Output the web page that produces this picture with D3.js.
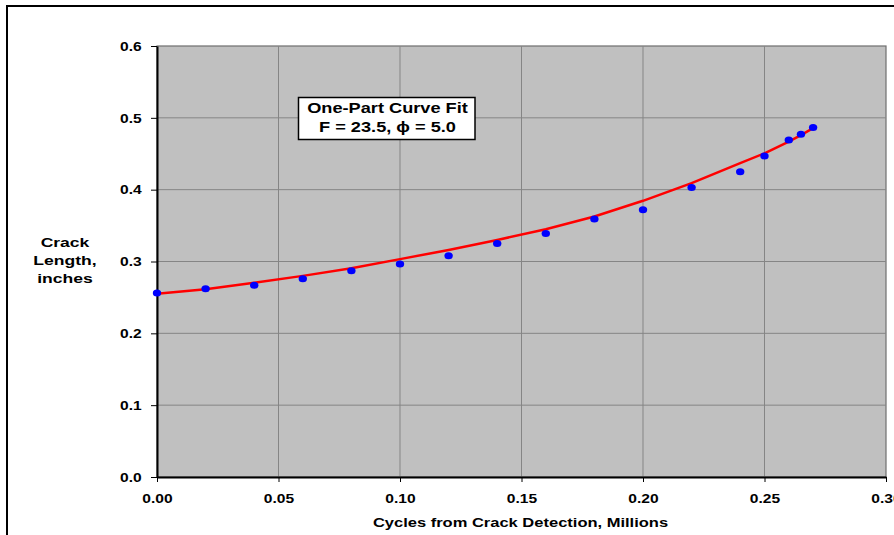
<!DOCTYPE html>
<html>
<head>
<meta charset="utf-8">
<script src="https://cdn.jsdelivr.net/npm/d3@7"></script>
<style>
  body { margin: 0; background: #fff; }
  text { font-family: "Liberation Sans", Arial, sans-serif; font-weight: bold; fill: #000; }
</style>
</head>
<body>
<div id="chart"></div>
<script>
// measured points (cycles in millions, crack length in inches)
var cycles = [0, 0.02, 0.04, 0.06, 0.08, 0.10, 0.12, 0.14, 0.16, 0.18, 0.20, 0.22, 0.24, 0.25, 0.26, 0.265, 0.27];
var crackLength = [0.256, 0.262, 0.267, 0.276, 0.287, 0.2965, 0.308, 0.325, 0.339, 0.359, 0.372, 0.403, 0.425, 0.447, 0.469, 0.477, 0.4865];

// one-part curve fit
var fitCycles = [0, 0.02, 0.04, 0.06, 0.08, 0.10, 0.12, 0.14, 0.16, 0.18, 0.20, 0.22, 0.24, 0.25, 0.26, 0.265, 0.27];
var fitLength = [0.255, 0.2615, 0.2705, 0.280, 0.2905, 0.3033, 0.316, 0.330, 0.345, 0.3626, 0.3845, 0.409, 0.437, 0.4506, 0.467, 0.476, 0.4856];

var xTicks = [0, 0.05, 0.10, 0.15, 0.20, 0.25, 0.30];
var yTicks = [0, 0.1, 0.2, 0.3, 0.4, 0.5, 0.6];

var legendLines = ["One-Part Curve Fit", "F = 23.5, \u03D5 = 5.0"];
var yTitle = ["Crack", "Length,", "inches"];
var xTitle = "Cycles from Crack Detection, Millions";

var W = 894, H = 535;
var margin = { left: 157, top: 46, right: 8, bottom: 58 };
var width = W - margin.left - margin.right;
var height = H - margin.top - margin.bottom;
var SX = 1.3; // the original text is drawn wide

var svg = d3.select("#chart").append("svg").attr("width", W).attr("height", H);

// outer chart frame (runs off the picture at right and bottom)
svg.append("rect").attr("x", 7).attr("y", 6).attr("width", W + 20).attr("height", H + 20)
  .attr("fill", "#fff").attr("stroke", "#000").attr("stroke-width", 2);

var g = svg.append("g").attr("transform", "translate(" + margin.left + "," + margin.top + ")");

var x = d3.scaleLinear().domain([0, 0.3]).range([0, width]);
var y = d3.scaleLinear().domain([0, 0.6]).range([height, 0]);

g.append("rect").attr("width", width).attr("height", height)
  .attr("fill", "#c0c0c0").attr("stroke", "#6e6e6e").attr("stroke-width", 1.2);

// grid
g.selectAll(".vgrid").data(xTicks.slice(1, -1)).enter().append("line")
  .attr("x1", function (d) { return x(d); }).attr("x2", function (d) { return x(d); })
  .attr("y1", 0).attr("y2", height)
  .attr("stroke", "#858585").attr("stroke-width", 1);
g.selectAll(".hgrid").data(yTicks.slice(1, -1)).enter().append("line")
  .attr("y1", function (d) { return y(d); }).attr("y2", function (d) { return y(d); })
  .attr("x1", 0).attr("x2", width)
  .attr("stroke", "#858585").attr("stroke-width", 1);

// axes
var xAxis = g.append("g").attr("transform", "translate(0," + height + ")")
  .call(d3.axisBottom(x).tickValues(xTicks).tickFormat(d3.format(".2f")).tickSize(5).tickSizeOuter(0));
var yAxis = g.append("g")
  .call(d3.axisLeft(y).tickValues(yTicks).tickFormat(d3.format(".1f")).tickSize(6).tickSizeOuter(0));

[xAxis, yAxis].forEach(function (a) {
  a.select(".domain").attr("stroke", "#000").attr("stroke-width", 2);
  a.selectAll(".tick line").attr("stroke", "#000").attr("stroke-width", 1);
  a.selectAll(".tick text").style("font-size", "12px").style("font-family", null).attr("fill", "#000");
});
xAxis.selectAll(".tick text").attr("y", 26).attr("dy", 0).attr("transform", "scale(" + SX + ",1)");
yAxis.selectAll(".tick text").attr("x", -15.3 / SX).attr("dy", "0.36em").attr("transform", "scale(" + SX + ",1)");

// fit line
var line = d3.line()
  .x(function (d, i) { return x(fitCycles[i]); })
  .y(function (d) { return y(d); });
g.append("path").datum(fitLength).attr("d", line)
  .attr("fill", "none").attr("stroke", "#ff0000").attr("stroke-width", 2.5);

// measured points
g.selectAll(".dot").data(crackLength).enter().append("ellipse")
  .attr("cx", function (d, i) { return x(cycles[i]); })
  .attr("cy", function (d) { return y(d); })
  .attr("rx", 4.2).attr("ry", 3.5)
  .attr("fill", "#0000ff");

function wideText(parent, px, py, str, size) {
  parent.append("text")
    .attr("transform", "translate(" + px + "," + py + ") scale(" + SX + ",1)")
    .attr("text-anchor", "middle")
    .style("font-size", size + "px")
    .text(str);
}

// legend box
var lg = svg.append("g");
lg.append("rect").attr("x", 298.5).attr("y", 97.5).attr("width", 176.5).attr("height", 42)
  .attr("fill", "#fff").attr("stroke", "#000").attr("stroke-width", 1.5);
legendLines.forEach(function (t, i) {
  wideText(lg, 387.5, 113 + i * 19, t, 14);
});

// axis titles
yTitle.forEach(function (t, i) {
  wideText(svg, 65, 246.5 + i * 18, t, 13.5);
});
wideText(svg, 520.5, 526.5, xTitle, 12.7);
</script>
</body>
</html>
